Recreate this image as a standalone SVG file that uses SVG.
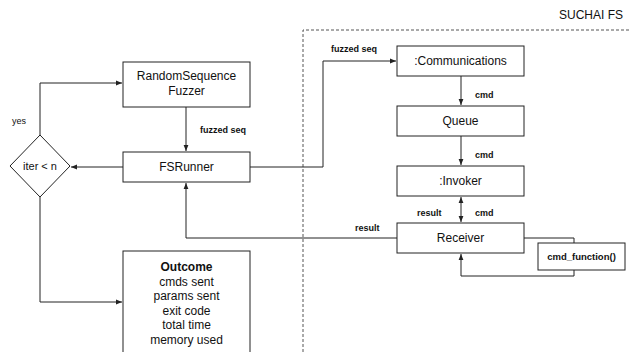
<svg xmlns="http://www.w3.org/2000/svg" width="630" height="352" viewBox="0 0 630 352">
  <style>
    .box { fill: #fff; stroke: #222; stroke-width: 1; }
    .wire { fill: none; stroke: #222; stroke-width: 1; }
    .lbl { font-family: "Liberation Sans", Arial, sans-serif; font-size: 12px; fill: #111; text-anchor: middle; }
    .tag { font-family: "Liberation Sans", Arial, sans-serif; font-size: 9px; font-weight: bold; fill: #111; }
    .frame { fill: none; stroke: #555; stroke-width: 1; stroke-dasharray: 3 2; }
  </style>
  <defs>
    <marker id="arr" viewBox="0 0 10 10" refX="10" refY="5" markerWidth="6" markerHeight="6" orient="auto-start-reverse" markerUnits="userSpaceOnUse">
      <path d="M0,1 L10,5 L0,9 z" fill="#222"/>
    </marker>
  </defs>
  <rect width="630" height="352" fill="#fff"/>

  <!-- SUCHAI flight-software boundary -->
  <g id="suchai-fs">
    <path class="frame" d="M303,352 V30 H630"/>
    <text class="lbl" x="623" y="19" style="text-anchor:end">SUCHAI FS</text>
  </g>

  <!-- connectors -->
  <g id="connectors">
    <path class="wire" d="M40,135 V83 H122" marker-end="url(#arr)"/>
    <path class="wire" d="M186,107 V151" marker-end="url(#arr)"/>
    <path class="wire" d="M123,167 H71" marker-end="url(#arr)"/>
    <path class="wire" d="M40,197 V302 H122" marker-end="url(#arr)"/>
    <path class="wire" d="M250,167 H323 V61 H396" marker-end="url(#arr)"/>
    <path class="wire" d="M461,76 V105" marker-end="url(#arr)"/>
    <path class="wire" d="M461,136 V165" marker-end="url(#arr)"/>
    <path class="wire" d="M461,197 V222" marker-start="url(#arr)" marker-end="url(#arr)"/>
    <path class="wire" d="M397,238 H186 V183" marker-end="url(#arr)"/>
    <path class="wire" d="M524,238 H574 V243"/>
    <path class="wire" d="M574,270 V276 H461 V254" marker-end="url(#arr)"/>

    <text class="tag" x="12" y="124" style="font-weight:normal">yes</text>
    <text class="tag" x="200" y="133">fuzzed seq</text>
    <text class="tag" x="331" y="52">fuzzed seq</text>
    <text class="tag" x="475" y="98">cmd</text>
    <text class="tag" x="475" y="158">cmd</text>
    <text class="tag" x="475" y="216">cmd</text>
    <text class="tag" x="417" y="216">result</text>
    <text class="tag" x="355" y="231">result</text>
  </g>

  <g id="random-sequence-fuzzer">
    <rect class="box" x="123" y="62" width="127" height="45"/>
    <text class="lbl" x="186.5" y="80">RandomSequence</text>
    <text class="lbl" x="186.5" y="95">Fuzzer</text>
  </g>

  <g id="fs-runner">
    <rect class="box" x="123" y="152" width="127" height="30"/>
    <text class="lbl" x="186.5" y="171">FSRunner</text>
  </g>

  <g id="iter-check">
    <path class="box" d="M10,166 L40,135 L70,166 L40,197 Z"/>
    <text class="lbl" x="40" y="170" style="font-size:11px">iter &lt; n</text>
  </g>

  <g id="outcome">
    <rect class="box" x="123" y="251" width="127" height="110"/>
    <text class="lbl" x="186.5" y="271" style="font-weight:bold">Outcome</text>
    <text class="lbl" x="186.5" y="285.5">cmds sent</text>
    <text class="lbl" x="186.5" y="300">params sent</text>
    <text class="lbl" x="186.5" y="314.5">exit code</text>
    <text class="lbl" x="186.5" y="329">total time</text>
    <text class="lbl" x="186.5" y="343.5">memory used</text>
  </g>

  <g id="communications">
    <rect class="box" x="397" y="46" width="127" height="30"/>
    <text class="lbl" x="460.5" y="65">:Communications</text>
  </g>

  <g id="queue">
    <rect class="box" x="397" y="106" width="127" height="30"/>
    <text class="lbl" x="460.5" y="125">Queue</text>
  </g>

  <g id="invoker">
    <rect class="box" x="397" y="166" width="127" height="30"/>
    <text class="lbl" x="460.5" y="185">:Invoker</text>
  </g>

  <g id="receiver">
    <rect class="box" x="397" y="223" width="127" height="30"/>
    <text class="lbl" x="460.5" y="242">Receiver</text>
  </g>

  <g id="cmd-function">
    <rect class="box" x="538" y="243" width="87" height="27"/>
    <text class="tag" x="581.5" y="260" style="text-anchor:middle;font-size:9.5px">cmd_function()</text>
  </g>
</svg>
